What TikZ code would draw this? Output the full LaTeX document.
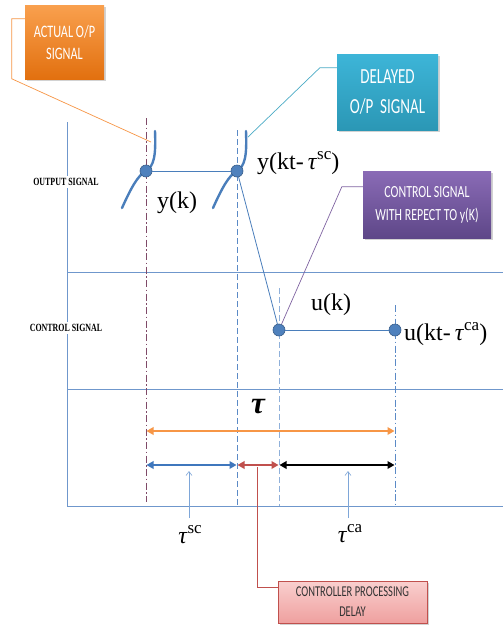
\documentclass[tikz,border=0pt]{standalone}
\usepackage{fontspec}
\setmainfont{Liberation Serif}
\newfontfamily\calloutfont[FakeStretch=0.7]{Carlito}
\newfontfamily\axisfont[FakeStretch=0.72]{Liberation Serif}
\usepackage{xcolor}
\usepackage{tikz}
\usetikzlibrary{arrows.meta,shadows}
\definecolor{delaygrid}{HTML}{6F97CC}
\definecolor{wavecol}{HTML}{4A7EBB}
\definecolor{dotfill}{HTML}{4F81BD}
\definecolor{dotedge}{HTML}{385D8A}
\definecolor{actline}{HTML}{7F4A68}
\definecolor{guideblue}{HTML}{5B8AC6}
\definecolor{guidelight}{HTML}{8FB0DA}
\definecolor{spanorange}{HTML}{F79646}
\definecolor{spanblue}{HTML}{3F77BD}
\definecolor{spanred}{HTML}{C0504D}
\definecolor{pointcol}{HTML}{7EA6D8}
\definecolor{acttop}{HTML}{F9A04E}
\definecolor{actbot}{HTML}{E2700F}
\definecolor{dlytop}{HTML}{3DB5D8}
\definecolor{dlybot}{HTML}{2B97B5}
\definecolor{ctltop}{HTML}{8A6BB6}
\definecolor{ctlbot}{HTML}{5E4788}
\definecolor{cpdtop}{HTML}{F9CFCE}
\definecolor{cpdbot}{HTML}{EFA09F}
\definecolor{calloutcyan}{HTML}{4BACC6}
\definecolor{calloutpurple}{HTML}{8064A2}
\newcommand{\tauit}{\textit{τ}}
\newcommand{\supscr}[1]{\raisebox{0.42em}{\fontsize{17}{17}\selectfont #1}}

\begin{document}
\begin{tikzpicture}[x=1pt, y=-1pt,
  grid/.style={draw=delaygrid, line width=0.9pt},
  wave/.style={draw=wavecol, line width=2.4pt, line cap=round},
  link/.style={draw=wavecol, line width=0.8pt},
  sample/.style={circle, fill=dotfill, draw=dotedge, line width=0.6pt, minimum size=12pt, inner sep=0pt},
  sig/.style={font=\fontsize{24}{26}\selectfont, inner sep=0pt},
  axislabel/.style={fill=white, inner sep=2pt, font=\axisfont\bfseries\fontsize{11}{12}\selectfont},
  callout/.style={align=center, text=white, inner sep=2pt, drop shadow={opacity=0.35, shadow xshift=1.5pt, shadow yshift=-1.5pt}},
  span/.style={line width=2.4pt, shorten <=0.5pt, shorten >=0.5pt, {Triangle[length=7pt,width=7.5pt]}-{Triangle[length=7pt,width=7.5pt]}},
  pointer/.style={draw=pointcol, line width=0.6pt, -{Straight Barb[length=4pt,width=6pt]}},
  instant/.style={line width=0.8pt, dash pattern=on 7pt off 2.5pt on 1.5pt off 2.5pt},
  delayline/.style={line width=0.8pt, dash pattern=on 6pt off 3pt}
]
\path[use as bounding box, fill=white] (0,0) rectangle (503,627);

\draw[grid] (67,122) -- (67,506) -- (503,506);
\draw[grid] (67,272) -- (503,272);
\draw[grid] (67,389) -- (503,389);
\node[axislabel] (outlab) at (66,182) {OUTPUT SIGNAL};
\node[axislabel] (ctllab) at (66,328) {CONTROL SIGNAL};

\draw[instant, draw=actline] (146,118) -- (146,502);
\draw[delayline, draw=guideblue] (237,130) -- (237,506);
\draw[delayline, draw=guidelight] (279,288) -- (279,506);
\draw[instant, draw=guideblue] (395,305) -- (395,506);

\foreach \x in {146,237}
  \draw[wave] (\x-24,208) .. controls (\x-15,188) and (\x-8,175) .. (\x,171)
    .. controls (\x+8,166) and (\x+10,156) .. (\x+9,131);

\node[sample] (yk) at (146,171) {};
\node[sample] (ydl) at (237,171) {};
\node[sample] (uk) at (279,330) {};
\node[sample] (uca) at (395,330) {};
\draw[link] (yk) -- (ydl);
\draw[link] (ydl) -- (uk);
\draw[link] (uk) -- (uca);

\node[sig] (yklab) at (177,203) {y(k)};
\node[sig, anchor=west] (ydlab) at (257,163) {y(kt-\,\tauit\supscr{sc})};
\node[sig] (uklab) at (331,305) {u(k)};
\node[sig, anchor=west] (ucalab) at (404,334) {u(kt-\,\tauit\supscr{ca})};
\node[font=\fontsize{31}{31}\selectfont\bfseries\itshape] (taulab) at (258,407) {τ};
\node[sig] (tsc) at (190,535) {\tauit\supscr{sc}};
\node[sig] (tca) at (350,534) {\tauit\supscr{ca}};

\coordinate (oa) at (146,431);
\coordinate (ob) at (395,431);
\coordinate (sa) at (146,465);
\coordinate (sb) at (237,465);
\coordinate (sc) at (279,465);
\coordinate (sd) at (395,465);
\draw[span, draw=spanorange] (oa) -- (ob);
\draw[span, draw=spanblue] (sa) -- (sb);
\draw[span, draw=spanred] (sb) -- (sc);
\draw[span, draw=black] (sc) -- (sd);

\coordinate (scfoot) at (189,518);
\coordinate (schead) at (189,471);
\coordinate (cafoot) at (348,518);
\coordinate (cahead) at (348,471);
\draw[pointer] (scfoot) -- (schead);
\draw[pointer] (cafoot) -- (cahead);

\node[callout, minimum width=79pt, minimum height=74pt, top color=acttop, bottom color=actbot,
  font=\calloutfont\fontsize{17.5}{22}\selectfont] (act) at (64.5,42) {ACTUAL O/P\\SIGNAL};
\node[callout, minimum width=101pt, minimum height=76pt, top color=dlytop, bottom color=dlybot,
  font=\calloutfont\fontsize{21.5}{30}\selectfont] (dly) at (387.5,92) {DELAYED\\O/P\ \ SIGNAL};
\node[callout, minimum width=128pt, minimum height=67pt, top color=ctltop, bottom color=ctlbot,
  font=\calloutfont\fontsize{17}{23}\selectfont] (ctl) at (427,204.5) {CONTROL SIGNAL\\WITH REPECT TO y(K)};
\node[callout, minimum width=149pt, minimum height=42pt, top color=cpdtop, bottom color=cpdbot,
  draw=spanred, line width=0.5pt, text=black!80,
  font=\calloutfont\fontsize{15}{20}\selectfont] (cpd) at (352.5,602) {CONTROLLER PROCESSING\\DELAY};

\coordinate (actend) at (151,142);
\coordinate (dlyend) at (248,137);
\coordinate (redmid) at (257,467);
\draw[draw=spanorange, line width=0.7pt] ([yshift=-14pt]act.north west) -- ++(-13,0) -- ++(0,60) -- (actend);
\draw[draw=calloutcyan, line width=0.7pt] ([yshift=-14pt]dly.north west) -- ++(-17,0) -- (dlyend);
\draw[draw=calloutpurple, line width=0.7pt] ([yshift=-16pt]ctl.north west) -- ++(-21,0) -- (uk);
\draw[draw=spanred, line width=0.7pt] ([yshift=-7pt]cpd.north west) -| (redmid);
\end{tikzpicture}
\end{document}
